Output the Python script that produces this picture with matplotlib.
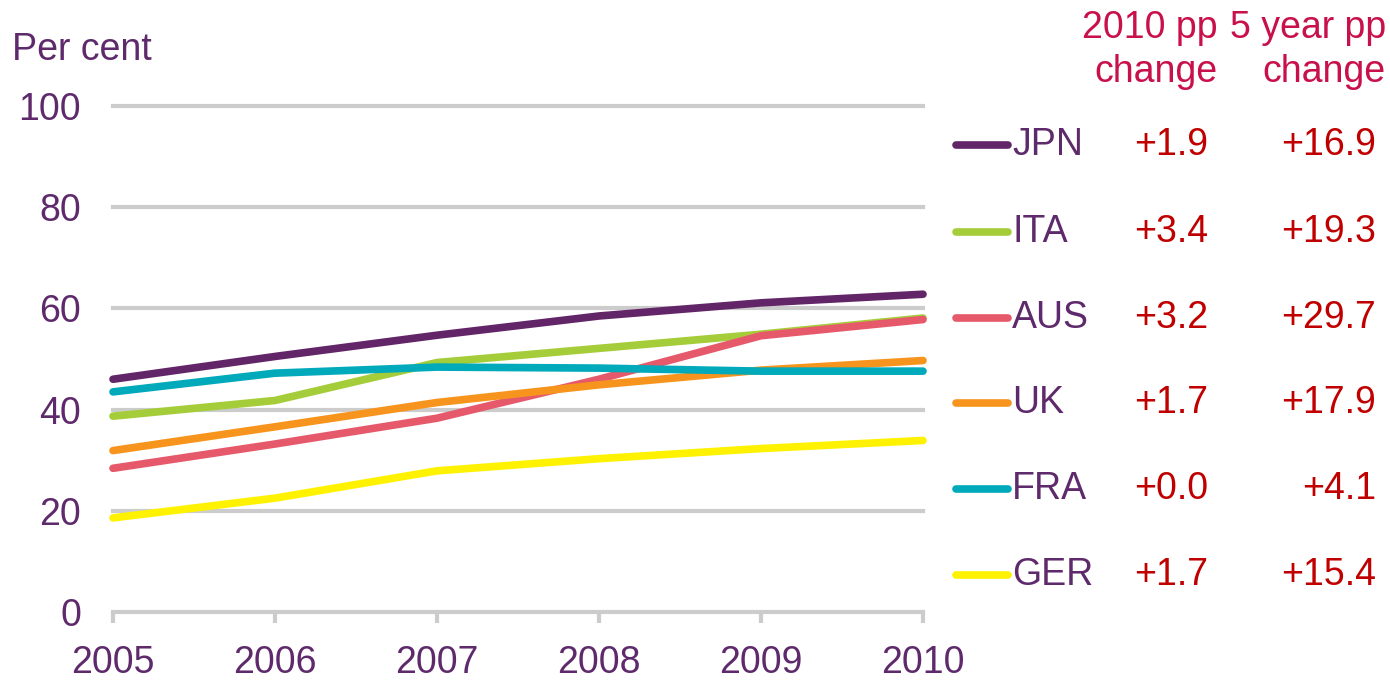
import matplotlib.pyplot as plt
from matplotlib.lines import Line2D

plt.rcParams['font.family'] = ['Liberation Sans', 'DejaVu Sans']

years = [2005, 2006, 2007, 2008, 2009, 2010]
countries = ['JPN', 'ITA', 'AUS', 'UK', 'FRA', 'GER']
jpn = [46.0, 50.5, 54.7, 58.5, 61.1, 62.8]
ita = [38.7, 41.8, 49.3, 52.1, 54.9, 58.1]
aus = [28.4, 33.2, 38.3, 46.0, 54.6, 57.8]
uk = [31.9, 36.6, 41.4, 44.9, 47.8, 49.7]
fra = [43.5, 47.2, 48.4, 48.2, 47.6, 47.6]
ger = [18.6, 22.5, 27.9, 30.3, 32.3, 33.9]
change_2010 = ['+1.9', '+3.4', '+3.2', '+1.7', '+0.0', '+1.7']
change_5yr = ['+16.9', '+19.3', '+29.7', '+17.9', '+4.1', '+15.4']

colors = ['#622567', '#A5CD39', '#E6596A', '#F7941D', '#00AABB', '#FFF200']
series = [jpn, ita, aus, uk, fra, ger]

purple = '#5E2A6B'
crimson = '#C8104A'
red = '#C00000'
grey = '#CCCCCC'
fs = 27

W, H = 1390, 684
fig = plt.figure(figsize=(W / 100, H / 100), dpi=100)
ax = fig.add_axes([113 / W, 1 - 612 / H, (923 - 113) / W, (612 - 106) / H])

for yv in [20, 40, 60, 80, 100]:
    ax.axhline(yv, color=grey, lw=3, zorder=1, clip_on=False)
ax.axhline(0, color=grey, lw=3, zorder=1, clip_on=False)

for vals, c in zip(series, colors):
    ax.plot(years, vals, color=c, lw=5.5, solid_capstyle='round', zorder=3, clip_on=False)

ax.set_xlim(2005, 2010)
ax.set_ylim(0, 100)
ax.set_yticks([0, 20, 40, 60, 80, 100])
ax.set_xticks(years)
for s in ax.spines.values():
    s.set_visible(False)
ax.tick_params(axis='y', length=0, pad=23, labelsize=fs, labelcolor=purple)
ax.tick_params(axis='x', length=8, width=3, color=grey, pad=16, labelsize=fs, labelcolor=purple)

fig.text(12 / W, 1 - 50 / H, 'Per cent', fontsize=fs, color=purple, va='center', ha='left')

fig.text(1218 / W, 1 - 50 / H, '2010 pp\nchange', fontsize=fs, color=crimson,
         ha='right', va='center', linespacing=1.25)
fig.text(1386 / W, 1 - 50 / H, '5 year pp\nchange', fontsize=fs, color=crimson,
         ha='right', va='center', linespacing=1.25)

row_y = [145, 232, 318, 403, 489, 575]
for i, name in enumerate(countries):
    y = 1 - row_y[i] / H
    fig.add_artist(Line2D([956 / W, 1008 / W], [y, y], color=colors[i], lw=5.5,
                          solid_capstyle='round', transform=fig.transFigure))
    fig.text(1012 / W, y, name, fontsize=fs, color=purple, ha='left', va='center')
    fig.text(1208 / W, y, change_2010[i], fontsize=fs, color=red, ha='right', va='center')
    fig.text(1376 / W, y, change_5yr[i], fontsize=fs, color=red, ha='right', va='center')

fig.savefig('out.png', dpi=100)
